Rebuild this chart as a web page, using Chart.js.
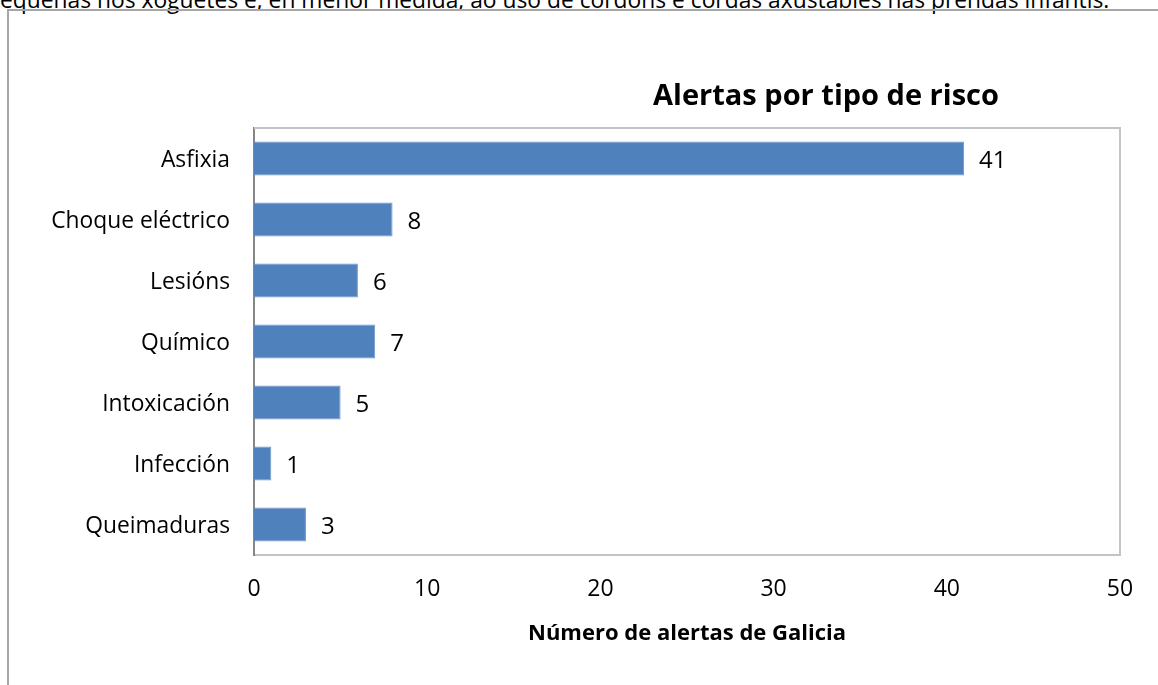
<!DOCTYPE html>
<html>
<head>
<meta charset="utf-8">
<script src="https://cdn.jsdelivr.net/npm/chart.js@4/dist/chart.umd.min.js"></script>
<style>
  html, body { margin: 0; padding: 0; background: #ffffff; overflow: hidden; }
  #wrap { position: relative; width: 1158px; height: 685px; overflow: hidden; }
  #para { position: absolute; left: 0; top: -11px; font-family: "Open Sans", sans-serif; font-size: 22.8px; line-height: 22.8px; color: #000; white-space: nowrap; }
  #frame { position: absolute; left: 7px; top: 9px; width: 1200px; height: 700px; border-left: 2px solid #a6a6a6; border-top: 2px solid #a6a6a6; }
  #c { position: absolute; left: 0; top: 0; }
</style>
</head>
<body>
<div id="wrap">
  <div id="para">equenas nos xoguetes e, en menor medida, ao uso de cordóns e cordas axustables nas prendas infantís.</div>
  <div id="frame"></div>
  <canvas id="c" width="1158" height="685"></canvas>
</div>
<script>
const chartTitle = "Alertas por tipo de risco";
const axisTitle = "Número de alertas de Galicia";
const categories = ["Asfixia", "Choque eléctrico", "Lesións", "Químico", "Intoxicación", "Infección", "Queimaduras"];
const values = [41, 8, 6, 7, 5, 1, 3];
const xTicks = [0, 10, 20, 30, 40, 50];

const FONT = "'Open Sans', sans-serif";

const titlePlugin = {
  id: 'customTitle',
  afterDraw(chart) {
    const ctx = chart.ctx;
    ctx.save();
    ctx.font = "bold 29px " + FONT;
    ctx.fillStyle = "#000";
    ctx.textAlign = "center";
    ctx.textBaseline = "alphabetic";
    ctx.fillText(chartTitle, 826, 105);
    ctx.restore();
  }
};

const frameBox = {
  id: 'frameBox',
  beforeDatasetsDraw(chart) {
    const {ctx, chartArea: a} = chart;
    ctx.save();
    ctx.strokeStyle = "#c4c4c4";
    ctx.lineWidth = 2;
    ctx.beginPath();
    ctx.moveTo(a.left, a.top);
    ctx.lineTo(a.right, a.top);
    ctx.lineTo(a.right, a.bottom);
    ctx.stroke();
    ctx.restore();
  }
};

const valueLabels = {
  id: 'valueLabels',
  afterDatasetsDraw(chart) {
    const ctx = chart.ctx;
    const meta = chart.getDatasetMeta(0);
    ctx.save();
    ctx.font = "24px " + FONT;
    ctx.fillStyle = "#000";
    ctx.textAlign = "left";
    ctx.textBaseline = "middle";
    meta.data.forEach((bar, i) => {
      ctx.fillText(String(chart.data.datasets[0].data[i]), bar.x + 15, bar.y + 3);
    });
    ctx.restore();
  }
};

new Chart(document.getElementById('c'), {
  type: 'bar',
  data: {
    labels: categories,
    datasets: [{
      data: values,
      backgroundColor: '#4f81bd',
      borderColor: '#6f96ca',
      borderWidth: 1,
      borderSkipped: 'left',
      categoryPercentage: 1,
      barPercentage: 0.56
    }]
  },
  options: {
    indexAxis: 'y',
    responsive: false,
    animation: false,
    events: [],
    layout: { padding: { left: 0, right: 38, top: 128, bottom: 0 } },
    plugins: {
      legend: { display: false },
      title: { display: false },
      tooltip: { enabled: false }
    },
    scales: {
      x: {
        min: 0,
        max: 50,
        afterBuildTicks(scale) { scale.ticks = xTicks.map(v => ({ value: v })); },
        afterFit(scale) { scale.height = 130; },
        grid: { display: false, drawTicks: false },
        border: { display: true, color: '#c4c4c4', width: 2 },
        ticks: { color: '#000', font: { family: FONT, size: 23 }, padding: 21, maxRotation: 0 },
        title: { display: true, text: axisTitle, color: '#000', font: { family: FONT, size: 22, weight: 'bold' }, padding: { top: 0, bottom: 38 } }
      },
      y: {
        afterFit(scale) { scale.width = 254; },
        grid: { display: false, drawTicks: false },
        border: { display: true, color: '#868686', width: 2 },
        ticks: { color: '#000', font: { family: FONT, size: 22.8 }, padding: 24, labelOffset: 2 }
      }
    }
  },
  plugins: [frameBox, valueLabels, titlePlugin]
});
</script>
</body>
</html>
